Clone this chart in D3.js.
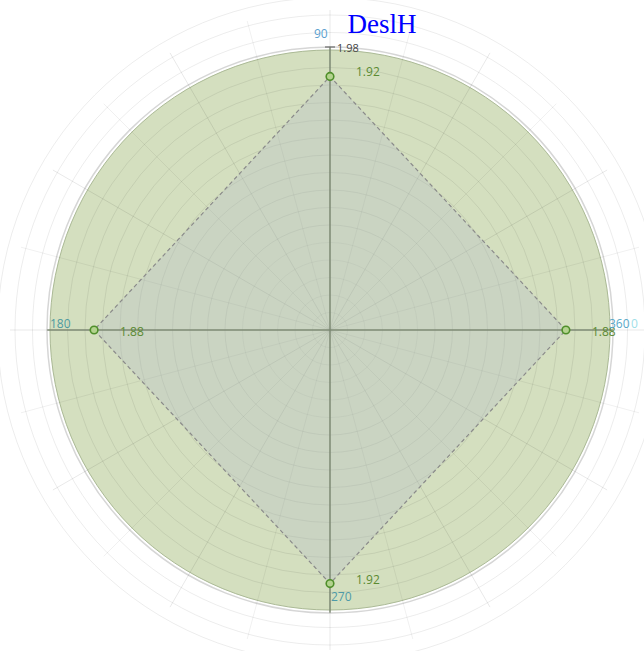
<!DOCTYPE html>
<html><head><meta charset="utf-8">
<script src="https://cdn.jsdelivr.net/npm/d3@7"></script>
<style>body{margin:0;background:#fff}svg{display:block}</style>
</head><body>
<svg id="c" width="644" height="651"></svg>
<script>
// data
const angles = [0, 90, 180, 270];
const values = [1.88, 1.92, 1.88, 1.92];
const maxValue = 1.98;
const angleLabels = ["0", "90", "180", "270", "360"];
const title = "DeslH";

const svg = d3.select("#c");
const cx = 330, cy = 330;
const g = svg.append("g").attr("transform", `translate(${cx},${cy})`);

const r = d3.scaleLinear().domain([1.345, 1.98]).range([0, 280]);
const rad = d => -d * Math.PI / 180; // math angle, y down
const px = (a, v) => r(v) * Math.cos(rad(a));
const py = (a, v) => r(v) * Math.sin(rad(a));

// green disk (max area)
g.append("circle").attr("r", r(maxValue)).attr("fill", "#d4dfbf").attr("stroke", "#b9c9a2").attr("stroke-width", 1);
g.append("circle").attr("r", r(maxValue) + 3).attr("fill", "none").attr("stroke", "#d6d6d6").attr("stroke-width", 1.5);

// grid circles
const step = r(maxValue) / 16;
g.selectAll(".gc").data(d3.range(1, 20)).enter().append("circle")
  .attr("r", d => d * step).attr("fill", "none")
  .attr("stroke", "#000").attr("stroke-opacity", d => d < 6 ? 0.05 : 0.075).attr("stroke-width", 1);
// spokes
g.selectAll(".sp").data(d3.range(0, 360, 15)).enter().append("line")
  .attr("x1", 0).attr("y1", 0)
  .attr("x2", d => 320 * Math.cos(rad(d))).attr("y2", d => 320 * Math.sin(rad(d)))
  .attr("stroke", "#000").attr("stroke-opacity", d => d % 30 === 0 ? 0.09 : 0.06).attr("stroke-width", 1);

// data polygon
const line = d3.line().x(d => px(d[0], d[1])).y(d => py(d[0], d[1])).curve(d3.curveLinearClosed);
const pts = angles.map((a, i) => [a, values[i]]);
g.append("path").attr("d", line(pts))
  .attr("fill", "#b8bfc8").attr("fill-opacity", 0.35)
  .attr("stroke", "#8a8a8a").attr("stroke-width", 1.2).attr("stroke-dasharray", "4,3");

// main axes
[0, 90, 180, 270].forEach(a => {
  g.append("line").attr("x1", 0).attr("y1", 0)
    .attr("x2", px(a, maxValue) * 1.01).attr("y2", py(a, maxValue) * 1.01)
    .attr("stroke", "#7f8b76").attr("stroke-width", 1.5);
});
// top tick
g.append("line").attr("x1", -5).attr("x2", 5)
  .attr("y1", py(90, maxValue) - 3).attr("y2", py(90, maxValue) - 3)
  .attr("stroke", "#555").attr("stroke-width", 1);
g.append("text").attr("x", 7).attr("y", py(90, maxValue) + 2)
  .attr("font-family", "Open Sans, sans-serif").attr("font-size", 11).attr("fill", "#444")
  .text(maxValue.toFixed(2));

// points
g.selectAll(".pt").data(pts).enter().append("circle")
  .attr("cx", d => px(d[0], d[1])).attr("cy", d => py(d[0], d[1])).attr("r", 3.8)
  .attr("fill", "#b3d38e").attr("stroke", "#4f8f2a").attr("stroke-width", 1.6);

// value labels
g.selectAll(".vl").data(pts).enter().append("text")
  .attr("x", d => px(d[0], d[1]) + 26)
  .attr("y", d => py(d[0], d[1]) + (d[0] % 180 === 0 ? 2 : 0))
  .attr("text-anchor", "start")
  .attr("dy", d => d[0] % 180 === 0 ? "0.32em" : "0em")
  .attr("font-family", "Open Sans, sans-serif").attr("font-size", 12).attr("fill", "#5b8a33")
  .text(d => d[1].toFixed(2));

// angle labels
const angPos = [
  {t: angleLabels[0], x: 301, y: -2, c: "#9fe0e8"},
  {t: angleLabels[4], x: 279, y: -2, c: "#58a8c8"},
  {t: angleLabels[1], x: -16, y: -292, c: "#5b9fcf"},
  {t: angleLabels[2], x: -280, y: -2, c: "#4e9aa0"},
  {t: angleLabels[3], x: 1, y: 271, c: "#4e9aa8"}
];
g.selectAll(".al").data(angPos).enter().append("text")
  .attr("x", d => d.x).attr("y", d => d.y)
  .attr("font-family", "Open Sans, sans-serif").attr("font-size", 12).attr("fill", d => d.c)
  .text(d => d.t);

// title
svg.append("text").attr("x", 382).attr("y", 33).attr("text-anchor", "middle")
  .attr("font-family", "Liberation Serif, serif").attr("font-size", 27).attr("fill", "#0000ff")
  .text(title);
</script>
</body></html>
